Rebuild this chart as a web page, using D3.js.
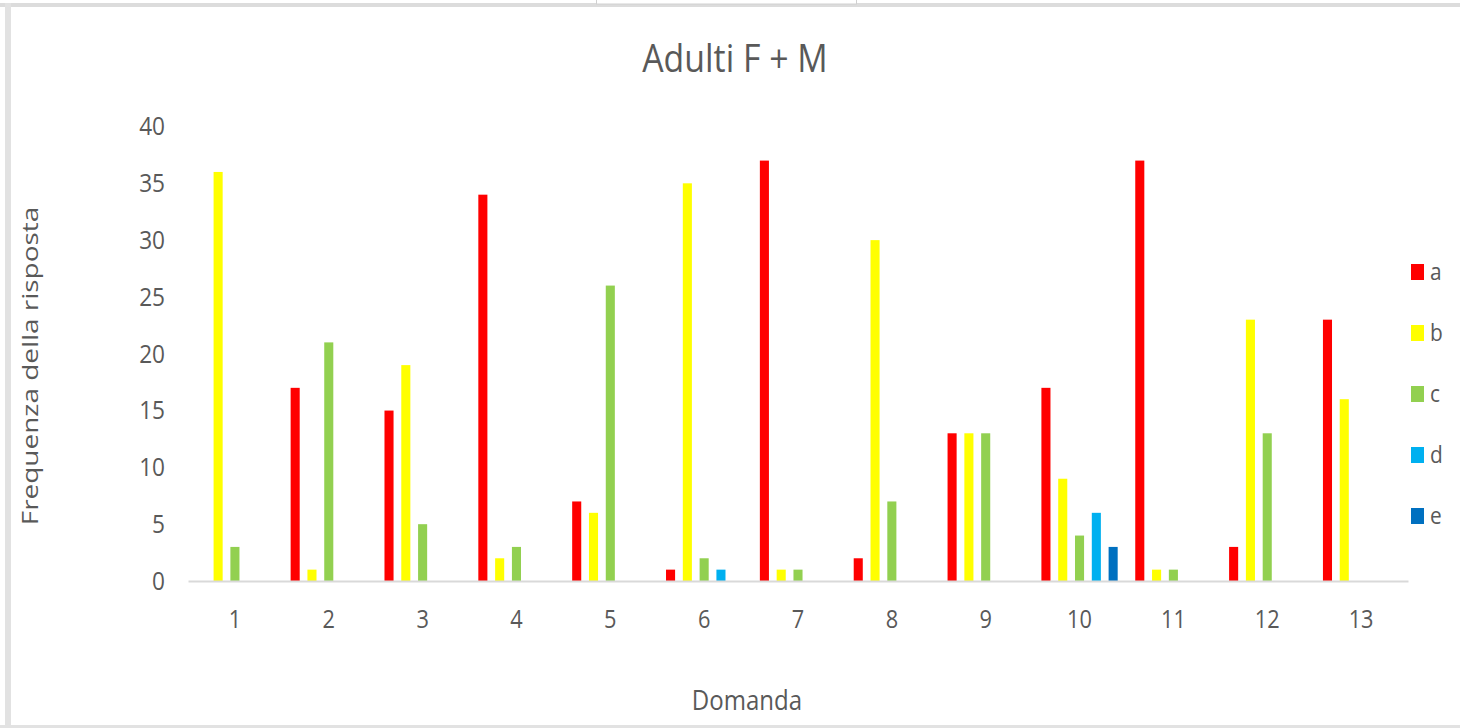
<!DOCTYPE html>
<html>
<head>
<meta charset="utf-8">
<script src="https://cdn.jsdelivr.net/npm/d3@7"></script>
<style>
  html, body { margin: 0; padding: 0; background: #fff; }
  svg { display: block; font-family: "Open Sans", sans-serif; }
</style>
</head>
<body>
<div class="chart"></div>
<script>
// data
const domande = ["1", "2", "3", "4", "5", "6", "7", "8", "9", "10", "11", "12", "13"];
const serie = ["a", "b", "c", "d", "e"];
const aVals = [0, 17, 15, 34, 7, 1, 37, 2, 13, 17, 37, 3, 23];
const bVals = [36, 1, 19, 2, 6, 35, 1, 30, 13, 9, 1, 23, 16];
const cVals = [3, 21, 5, 3, 26, 2, 1, 7, 13, 4, 1, 13, 0];
const dVals = [0, 0, 0, 0, 0, 1, 0, 0, 0, 6, 0, 0, 0];
const eVals = [0, 0, 0, 0, 0, 0, 0, 0, 0, 3, 0, 0, 0];
const yTicks = [0, 5, 10, 15, 20, 25, 30, 35, 40];
const colori = ["#ff0000", "#ffff00", "#92d050", "#00b0f0", "#0070c0"];

const values = { a: aVals, b: bVals, c: cVals, d: dVals, e: eVals };

const W = 1460, H = 728;
const plotLeft = 188, plotRight = 1408, plotTop = 126.5, plotBottom = 581;
const grey = "#595959";

const svg = d3.select(".chart").append("svg")
    .attr("width", W)
    .attr("height", H);

// window frame bits from the screenshot
svg.append("rect").attr("x", 0).attr("y", 3).attr("width", W).attr("height", 4).attr("fill", "#dcdcdc");
svg.append("rect").attr("x", 5).attr("y", 3).attr("width", 6).attr("height", H).attr("fill", "#e2e2e2");
svg.append("rect").attr("x", 0).attr("y", 725).attr("width", W).attr("height", 3).attr("fill", "#e2e2e2");
svg.append("rect").attr("x", 596.5).attr("y", -1).attr("width", 260).attr("height", 5)
    .attr("fill", "#fff").attr("stroke", "#d0d0d0");

// text is narrow in the reference, squeeze it
const squeeze = (sel, k) => {
    sel.each(function () {
        const L = this.getComputedTextLength();
        this.setAttribute("textLength", L * k);
        this.setAttribute("lengthAdjust", "spacingAndGlyphs");
    });
};

const x0 = d3.scaleBand().domain(domande).range([plotLeft, plotRight]).paddingInner(0);
const x1 = d3.scaleBand().domain(serie).range([0, x0.bandwidth()])
    .paddingInner(0.46).paddingOuter(0.523);
const y = d3.scaleLinear().domain([0, 40]).range([plotBottom, plotTop]);

// y axis
const yAx = svg.append("g")
    .attr("transform", "translate(" + plotLeft + ",0)")
    .call(d3.axisLeft(y).tickValues(yTicks).tickSize(0).tickPadding(23));
yAx.select(".domain").remove();
yAx.selectAll("text")
    .style("font-family", "Open Sans")
    .style("font-size", "26px")
    .attr("fill", grey);
squeeze(yAx.selectAll("text"), 0.87);

// bars
const groups = svg.append("g").selectAll("g")
    .data(domande)
    .enter()
    .append("g")
    .attr("transform", d => "translate(" + x0(d) + ",0)");

groups.selectAll("rect")
    .data((d, i) => serie.map((s, j) => ({ s: s, v: values[s][i], col: colori[j] })).filter(o => o.v > 0))
    .enter()
    .append("rect")
    .attr("x", d => x1(d.s))
    .attr("y", d => y(d.v))
    .attr("width", x1.bandwidth())
    .attr("height", d => y(0) - y(d.v))
    .attr("fill", d => d.col);

// x axis
const xAx = svg.append("g")
    .attr("transform", "translate(0," + plotBottom + ")")
    .call(d3.axisBottom(x0).tickSize(0).tickSizeOuter(0).tickPadding(29));
xAx.select(".domain").attr("stroke", "#d9d9d9").attr("stroke-width", 2);
xAx.selectAll("text")
    .style("font-family", "Open Sans")
    .style("font-size", "25px")
    .attr("fill", grey);
squeeze(xAx.selectAll("text"), 0.87);

// title
const title = svg.append("text")
    .attr("x", 735)
    .attr("y", 72)
    .attr("text-anchor", "middle")
    .style("font-size", "38px")
    .attr("fill", grey)
    .text("Adulti F + M");
squeeze(title, 0.89);

// axis titles
const xTitle = svg.append("text")
    .attr("x", 747)
    .attr("y", 710)
    .attr("text-anchor", "middle")
    .style("font-size", "27px")
    .attr("fill", grey)
    .text("Domanda");
squeeze(xTitle, 0.89);

const yTitle = svg.append("text")
    .attr("transform", "translate(38,366) rotate(-90)")
    .attr("text-anchor", "middle")
    .style("font-size", "21px")
    .attr("fill", grey)
    .text("Frequenza della risposta");
squeeze(yTitle, 1.33);

// legend
const legend = svg.append("g")
    .selectAll("g")
    .data(serie)
    .enter()
    .append("g")
    .attr("transform", (d, i) => "translate(1411," + (272 + i * 61) + ")");

legend.append("rect")
    .attr("x", 0)
    .attr("y", -8)
    .attr("width", 13)
    .attr("height", 16)
    .attr("fill", (d, i) => colori[i]);

const legText = legend.append("text")
    .attr("x", 19)
    .attr("dy", "0.33em")
    .style("font-size", "24px")
    .attr("fill", grey)
    .text(d => d);
squeeze(legText, 0.87);
</script>
</body>
</html>
